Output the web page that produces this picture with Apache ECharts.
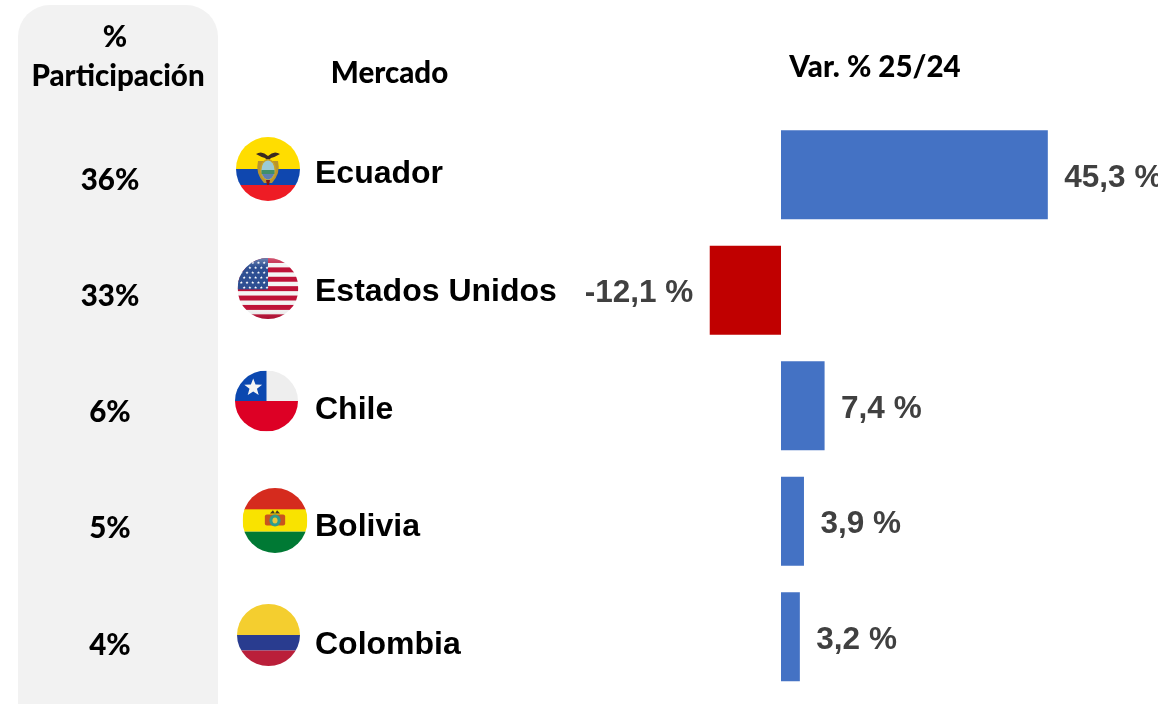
<!DOCTYPE html>
<html><head><meta charset="utf-8">
<style>html,body{margin:0;padding:0;background:#fff;overflow:hidden}#c{width:1158px;height:704px}</style>
<script src="https://cdn.jsdelivr.net/npm/echarts@6/dist/echarts.min.js"></script>
</head><body><div id="c"></div>
<script>
const markets = ['Ecuador', 'Estados Unidos', 'Chile', 'Bolivia', 'Colombia'];
const shares = ['36%', '33%', '6%', '5%', '4%'];
const variation = [45.3, -12.1, 7.4, 3.9, 3.2];
const headerShare = ['%', 'Participación'];
const headerMarket = 'Mercado';
const headerVar = 'Var. % 25/24';

const BLUE = '#4472C4', RED = '#C00000';
const HEAD_FONT = 'Lato, "Open Sans", sans-serif';
const ARIAL = '"Liberation Sans", Arial, sans-serif';

function star(cx, cy, r, fill) {
  let p = [];
  for (let i = 0; i < 10; i++) {
    const a = -Math.PI / 2 + i * Math.PI / 5, q = i % 2 ? r * 0.42 : r;
    p.push((cx + q * Math.cos(a)).toFixed(2) + ',' + (cy + q * Math.sin(a)).toFixed(2));
  }
  return `<polygon points="${p.join(' ')}" fill="${fill}"/>`;
}
function wrap(body) {
  const svg = `<svg xmlns="http://www.w3.org/2000/svg" width="128" height="128" viewBox="0 0 64 64"><defs><clipPath id="k"><circle cx="32" cy="32" r="32"/></clipPath></defs><g clip-path="url(#k)">${body}</g></svg>`;
  return 'data:image/svg+xml;charset=utf-8,' + encodeURIComponent(svg);
}
function ecuador() {
  return wrap(`<rect width="64" height="32" fill="#FFDD00"/><rect y="32" width="64" height="16" fill="#0F47AF"/><rect y="48" width="64" height="16" fill="#EE1C25"/>
  <path d="M20 17 Q26 13 32 19 Q38 13 44 17 Q39 20 35 21 L32 24 L29 21 Q25 20 20 17Z" fill="#3a2a20"/>
  <path d="M22 24 Q19 36 28 46 L36 46 Q45 36 42 24 Z" fill="#B8942E"/>
  <ellipse cx="32" cy="33" rx="8" ry="11" fill="#C9A227"/><ellipse cx="32" cy="33" rx="6.5" ry="9.5" fill="#9CCBD6"/>
  <rect x="25.5" y="33" width="13" height="4" fill="#3F8F6B"/><path d="M26 37 H38 Q36 42 32 42.500 Q28 42 26 37Z" fill="#5E7FB0"/>
  <path d="M30 43 L34 43 L33 48 L31 48Z" fill="#7a1a1a"/>`);
}
function usa() {
  let s = '<rect width="64" height="64" fill="#F4F4F4"/>';
  for (let i = 0; i < 7; i++) s += `<rect y="${i * 9.85}" width="64" height="5.2" fill="#BE1238"/>`;
  s += '<rect width="32" height="33" fill="#2E4F92"/>';
  for (let r = 0; r < 6; r++) for (let c = 0; c < 5; c++) {
    s += star(4 + c * 6 + (r % 2 ? 3 : 0), 5 + r * 5.2, 1.7, '#fff');
  }
  s += '<defs><linearGradient id="g" x1="0" y1="0" x2="0" y2="1"><stop offset="0" stop-color="#fff" stop-opacity="0.3"/><stop offset="0.15" stop-color="#fff" stop-opacity="0"/><stop offset="0.8" stop-color="#fff" stop-opacity="0"/><stop offset="1" stop-color="#000" stop-opacity="0.12"/></linearGradient></defs><rect width="64" height="64" fill="url(#g)"/>';
  return wrap(s);
}
function chile() {
  return wrap(`<rect width="64" height="32" fill="#EEEEEE"/><rect y="32" width="64" height="32" fill="#DD0025"/><rect width="32" height="32" fill="#0B48B0"/>${star(18.5, 18, 9.5, '#F4F4F4')}`);
}
function bolivia() {
  return wrap(`<rect width="64" height="22" fill="#D52B1E"/><rect y="21" width="64" height="22" fill="#F9E300"/><rect y="43" width="64" height="21" fill="#007934"/>
  <rect x="22" y="26" width="20" height="11" rx="2" fill="#C8551E"/><ellipse cx="32" cy="32" rx="5.500" ry="6" fill="#2E9C8C"/><ellipse cx="32" cy="32" rx="2.500" ry="3" fill="#E9C53A"/>
  <path d="M27 25 L30 22 L32 25 L34 22 L37 25Z" fill="#4a3a22"/>`);
}
function colombia() {
  return wrap('<rect width="64" height="32" fill="#F4CE2F"/><rect y="32" width="64" height="16" fill="#293C8F"/><rect y="48" width="64" height="16" fill="#BA1F3A"/>');
}
const flags = [ecuador(), usa(), chile(), bolivia(), colombia()];

const chart = echarts.init(document.getElementById('c'), null, { renderer: 'canvas' });
const hiddenX = i => ({ type: 'value', gridIndex: i, min: 0, max: 1, show: false });
const labelAxis = (i, data, font) => ({
  type: 'category', gridIndex: i, data, inverse: true,
  axisLine: { show: false }, axisTick: { show: false }, splitLine: { show: false },
  axisLabel: Object.assign({ margin: 0, interval: 0 }, font)
});
const headText = (text, x, y) => ({
  type: 'text', z: 6,
  style: { text, x, y, align: 'center', verticalAlign: 'middle', fontFamily: HEAD_FONT, fontWeight: 900, fontSize: 29.5, fill: '#000' }
});

chart.setOption({
  animation: false,
  backgroundColor: '#fff',
  graphic: [
    { type: 'rect', z: -10, shape: { x: 18, y: 5, width: 200, height: 740, r: 32 }, style: { fill: '#F2F2F2' } },
    headText(headerShare[0], 115, 37),
    headText(headerShare[1], 118, 76),
    headText(headerMarket, 389.5, 73),
    headText(headerVar, 875, 67),
    ...[[236, 137, 64, 64], [237.5, 258, 61, 61], [235, 370.5, 63, 61], [242.5, 488, 65, 65], [237, 604, 63, 62]].map((b, i) => ({
      type: 'image', z: 5, style: { image: flags[i], x: b[0], y: b[1], width: b[2], height: b[3] }
    }))
  ],
  grid: [
    { left: 663.2, top: 117.1, width: 471.2, height: 577.5 },
    { left: 315, top: 115.5, width: 1, height: 594 },
    { left: 110, top: 121.9, width: 1, height: 581.25 }
  ],
  xAxis: [
    { type: 'value', gridIndex: 0, min: -20, max: 60, show: false },
    hiddenX(1), hiddenX(2)
  ],
  yAxis: [
    { type: 'category', gridIndex: 0, data: markets, inverse: true, show: false },
    labelAxis(1, markets, { align: 'left', fontFamily: ARIAL, fontWeight: 700, fontSize: 32, color: '#000' }),
    labelAxis(2, shares, { align: 'center', fontFamily: HEAD_FONT, fontWeight: 900, fontSize: 29.5, color: '#000' })
  ],
  series: [{
    type: 'bar', xAxisIndex: 0, yAxisIndex: 0, barWidth: 89,
    data: variation.map(v => ({
      value: v,
      itemStyle: { color: v < 0 ? RED : BLUE },
      label: { position: v < 0 ? 'left' : 'right' }
    })),
    label: {
      show: true, distance: 16.5, offset: [0, 3], fontFamily: ARIAL, fontWeight: 700, fontSize: 31.5, color: '#404040',
      formatter: p => p.value.toFixed(1).replace('.', ',') + ' %'
    }
  }]
});
</script></body></html>
